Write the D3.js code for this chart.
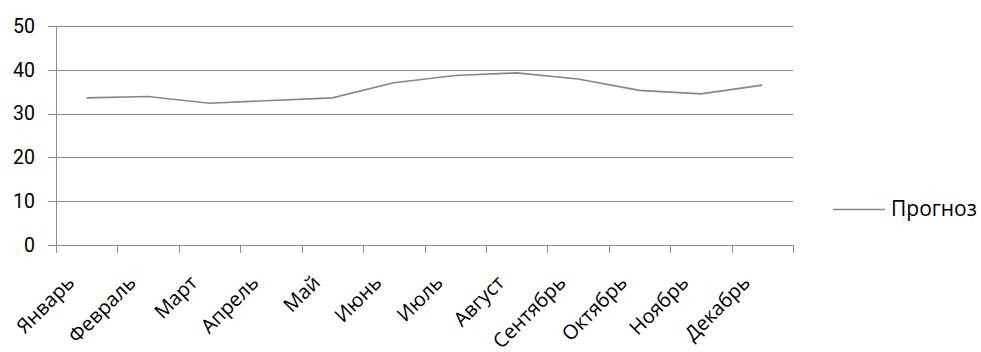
<!DOCTYPE html>
<html><head><meta charset="utf-8">
<script src="https://cdn.jsdelivr.net/npm/d3@7"></script>
<style>body{margin:0;background:#fff}svg{display:block}</style>
</head><body>
<svg id="c" width="981" height="352"></svg>
<script>
const months = ["Январь","Февраль","Март","Апрель","Май","Июнь","Июль","Август","Сентябрь","Октябрь","Ноябрь","Декабрь"];
const forecast = [33.6,33.9,32.35,33.0,33.6,37.05,38.7,39.3,37.9,35.3,34.5,36.5];
const yTicks = [0,10,20,30,40,50];
const seriesName = "Прогноз";

const svg = d3.select("#c");
const x = d3.scaleBand().domain(months).range([56,793]);
const y = d3.scaleLinear().domain([0,50]).range([245,26]);
const grid = "#8c8c8c";

// gridlines + y ticks
svg.append("g").selectAll("line").data(yTicks).join("line")
  .attr("x1",48).attr("x2",793)
  .attr("y1",d=>Math.round(y(d))+0.5).attr("y2",d=>Math.round(y(d))+0.5)
  .attr("stroke",grid).attr("stroke-width",1);
// y axis line
svg.append("line").attr("x1",56.5).attr("x2",56.5).attr("y1",26).attr("y2",253)
  .attr("stroke",grid);
// x ticks
const bounds = months.map(m=>x(m)).concat([x.range()[1]]);
svg.append("g").selectAll("line").data(bounds).join("line")
  .attr("x1",d=>Math.round(d)+0.5).attr("x2",d=>Math.round(d)+0.5)
  .attr("y1",245).attr("y2",253).attr("stroke",grid);

// y labels
svg.append("g").selectAll("text").data(yTicks).join("text")
  .attr("x",35).attr("y",d=>y(d)).attr("dy","0.35em")
  .attr("text-anchor","end").attr("font-family","Roboto").attr("font-size",19.5)
  .attr("fill","#000").text(d=>d);

// x labels
svg.append("g").selectAll("text").data(months).join("text")
  .attr("transform",d=>`translate(${x(d)+x.bandwidth()/2-11},${284}) rotate(-45)`)
  .attr("text-anchor","end").attr("font-family","Open Sans").attr("font-size",20)
  .attr("fill","#000").text(d=>d);

// line
const line = d3.line().x((d,i)=>x(months[i])+x.bandwidth()/2).y(d=>y(d));
svg.append("path").datum(forecast).attr("d",line)
  .attr("fill","none").attr("stroke","#868686").attr("stroke-width",1.6);

// legend
svg.append("line").attr("x1",833).attr("x2",885).attr("y1",209.5).attr("y2",209.5)
  .attr("stroke","#868686").attr("stroke-width",1.6);
svg.append("text").attr("x",891).attr("y",209).attr("dy","0.35em")
  .attr("font-family","Open Sans").attr("font-size",21).attr("fill","#000").text(seriesName);
</script>
</body></html>
